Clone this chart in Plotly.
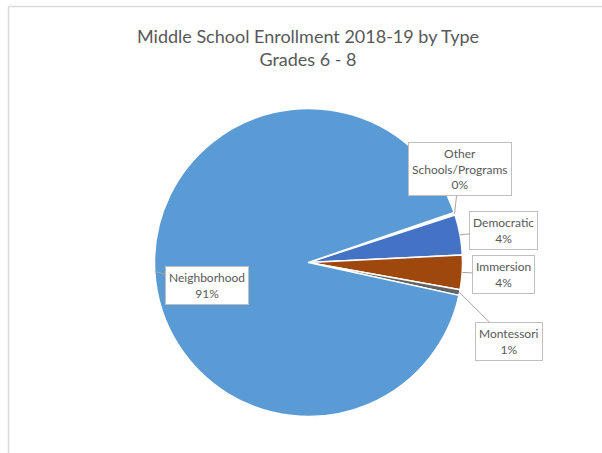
import math
import plotly.graph_objects as go

# ---- data ----
categories = ["Other Schools/Programs", "Democratic", "Immersion", "Montessori", "Neighborhood"]
label_lines = ["Other<br>Schools/Programs", "Democratic", "Immersion", "Montessori", "Neighborhood"]
shares = [0.3, 4.2, 3.6, 0.6, 91.3]
colors = ["#FFFFFF", "#4472C4", "#9E480E", "#636363", "#5B9BD5"]

# ---- layout constants (pixels) ----
W, H = 602, 453
CX, CY, R = 308.5, 262.5, 154
ROT = 71
box_centers = [(459.5, 169), (503.5, 230.5), (503.5, 274.5), (509, 341.5), (207, 285)]
TXT = "#595959"
FONT = "Lato, 'Open Sans', sans-serif"

fig = go.Figure(go.Pie(
    labels=categories,
    values=shares,
    sort=False,
    direction="clockwise",
    rotation=ROT,
    marker=dict(colors=colors, line=dict(color="#FFFFFF", width=1.5)),
    textinfo="none",
    hoverinfo="label+percent",
    showlegend=False,
    domain=dict(x=[(CX - R) / W, (CX + R) / W], y=[1 - (CY + R) / H, 1 - (CY - R) / H]),
))

total = sum(shares)
cum = 0.0
annotations = []
for lab, v, (bx, by) in zip(label_lines, shares, box_centers):
    mid = ROT + (cum + v / 2) / total * 360
    cum += v
    t = math.radians(mid)
    tx = CX + R * math.sin(t)
    ty = CY - R * math.cos(t)
    pct = round(v / total * 100)
    annotations.append(dict(
        x=tx / W, y=1 - ty / H, xref="paper", yref="paper",
        text=f"{lab}<br>{pct}%",
        showarrow=True, arrowhead=0, arrowwidth=1, arrowcolor="#A6A6A6",
        standoff=0, ax=bx - tx, ay=by - ty,
        bordercolor="#BFBFBF", borderwidth=1, borderpad=3, bgcolor="#FFFFFF",
        font=dict(family=FONT, size=12, color=TXT), align="center",
    ))

shapes = [
    dict(type="line", xref="paper", yref="paper", x0=8.5 / W, x1=1, y0=1 - 6.5 / H, y1=1 - 6.5 / H,
         line=dict(color="#D9D9D9", width=1.5)),
    dict(type="line", xref="paper", yref="paper", x0=8.5 / W, x1=8.5 / W, y0=0, y1=1 - 6.5 / H,
         line=dict(color="#D9D9D9", width=1.5)),
]

fig.update_layout(
    width=W, height=H,
    margin=dict(l=0, r=0, t=0, b=0),
    paper_bgcolor="#FFFFFF", plot_bgcolor="#FFFFFF",
    title=dict(text="Middle School Enrollment 2018-19 by Type<br>Grades 6 - 8",
               x=308 / W, xanchor="center", y=1 - 43 / H, yanchor="middle",
               font=dict(family=FONT, size=18, color=TXT)),
    annotations=annotations,
    shapes=shapes,
)

fig.write_html("out.html",
               config={"displayModeBar": False},
               post_script="document.body.style.margin='0';document.body.style.overflow='hidden';")
